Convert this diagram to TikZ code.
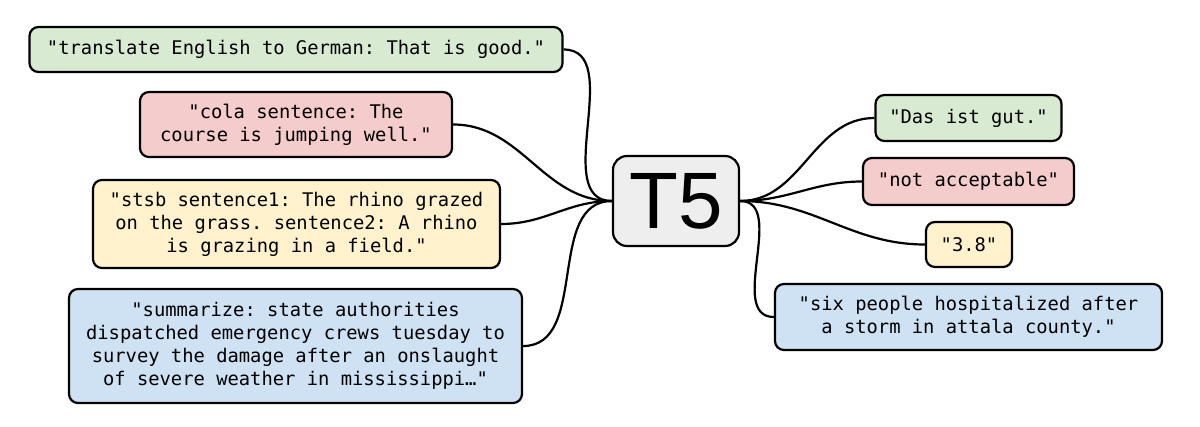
\documentclass[tikz,border=0pt]{standalone}
\usepackage{fontspec}
\setmonofont{DejaVu Sans Mono}
\setsansfont{Liberation Sans}
\usepackage{tikz}

\definecolor{boxgreen}{HTML}{D9EAD3}
\definecolor{boxred}{HTML}{F4CCCC}
\definecolor{boxyellow}{HTML}{FFF2CC}
\definecolor{boxblue}{HTML}{CFE2F3}
\definecolor{boxgray}{HTML}{EEEEEE}

\tikzset{
  task/.style={draw, line width=2.2pt, rounded corners=9pt, align=center,
    inner sep=0pt, font=\ttfamily\fontsize{18.8}{23}\selectfont},
  link/.style={line width=2.2pt}
}

\begin{document}
\begin{tikzpicture}[x=1pt,y=-1pt]
\useasboundingbox (0,0) rectangle (1200,426);

% inputs
\node [task, fill=boxgreen, minimum width=533, minimum height=45] (inen) at (296,49.5) {"translate English to German: That is good."};
\node [task, fill=boxred, minimum width=312, minimum height=65] (incola) at (296,124.5) {"cola sentence: The\\course is jumping well."};
\node [task, fill=boxyellow, minimum width=407, minimum height=88] (instsb) at (296.5,224) {"stsb sentence1: The rhino grazed\\on the grass. sentence2: A rhino\\is grazing in a field."};
\node [task, fill=boxblue, minimum width=453, minimum height=114] (insum) at (295.5,346) {"summarize: state authorities\\dispatched emergency crews tuesday to\\survey the damage after an onslaught\\of severe weather in mississippi…"};

% model
\node [draw, line width=2.2pt, rounded corners=14pt, fill=boxgray, minimum width=126, minimum height=90, inner sep=0pt, font=\sffamily\fontsize{80}{80}\selectfont] (tfive) at (676,201) {T5};

% outputs
\node [task, fill=boxgreen, minimum width=186, minimum height=46] (outen) at (968.5,118) {"Das ist gut."};
\node [task, fill=boxred, minimum width=211, minimum height=47] (outcola) at (968.5,181.5) {"not acceptable"};
\node [task, fill=boxyellow, minimum width=86, minimum height=45] (outstsb) at (969,244.5) {"3.8"};
\node [task, fill=boxblue, minimum width=387, minimum height=66] (outsum) at (968.5,317) {"six people hospitalized after\\a storm in attala county."};

\draw [link] (inen.east) to [out=0,in=180] (tfive.west);
\draw [link] (incola.east) to [out=0,in=180] (tfive.west);
\draw [link] (instsb.east) to [out=0,in=180] (tfive.west);
\draw [link] (insum.east) to [out=0,in=180] (tfive.west);

\draw [link] (tfive.east) to [out=0,in=180] (outen.west);
\draw [link] (tfive.east) to [out=0,in=180] (outcola.west);
\draw [link] (tfive.east) to [out=0,in=180] (outstsb.west);
\draw [link] (tfive.east) to [out=0,in=180] (outsum.west);

\end{tikzpicture}
\end{document}
